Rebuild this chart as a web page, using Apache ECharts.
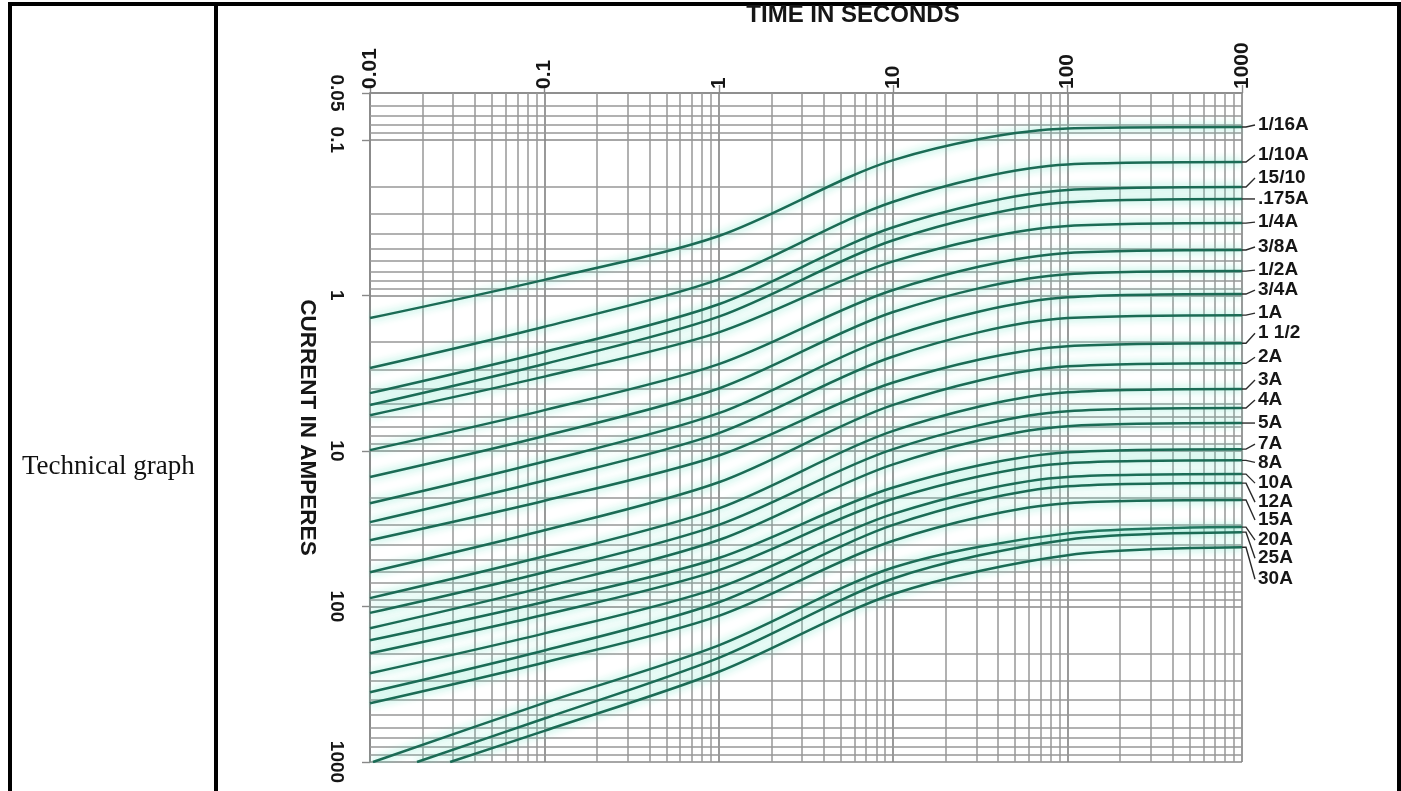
<!DOCTYPE html>
<html><head><meta charset="utf-8">
<script src="https://cdn.jsdelivr.net/npm/echarts@6/dist/echarts.min.js"></script>
<style>html,body{margin:0;padding:0;background:#fff;overflow:hidden}#c{width:1401px;height:791px}</style>
</head><body><div id="c"></div>
<script>
// ---- data (time in s, current in A) ----
const curveNames = ['1/16A','1/10A','15/100A','.175A','1/4A','3/8A','1/2A','3/4A','1A','1 1/2A','2A','3A','4A','5A','7A','8A','10A','12A','15A','20A','25A','30A'];
const c_1_16  = [[0.01,1.40],[0.1,0.795],[1,0.415],[10,0.135],[100,0.0845],[1000,0.0827]];
const c_1_10  = [[0.01,2.93],[0.1,1.59],[1,0.79],[10,0.250],[100,0.144],[1000,0.139]];
const c_15_100= [[0.01,4.25],[0.1,2.31],[1,1.14],[10,0.365],[100,0.210],[1000,0.201]];
const c_175   = [[0.01,5.07],[0.1,2.76],[1,1.37],[10,0.442],[100,0.252],[1000,0.240]];
const c_1_4   = [[0.01,5.89],[0.1,3.33],[1,1.73],[10,0.605],[100,0.358],[1000,0.343]];
const c_3_8   = [[0.01,9.88],[0.1,5.47],[1,2.77],[10,0.924],[100,0.534],[1000,0.511]];
const c_1_2   = [[0.01,14.7],[0.1,8.01],[1,3.97],[10,1.28],[100,0.731],[1000,0.698]];
const c_3_4   = [[0.01,21.7],[0.1,11.7],[1,5.72],[10,1.82],[100,1.03],[1000,0.981]];
const c_1     = [[0.01,28.7],[0.1,15.5],[1,7.68],[10,2.47],[100,1.40],[1000,1.34]];
const c_1_5   = [[0.01,37.5],[0.1,20.9],[1,10.7],[10,3.63],[100,2.12],[1000,2.03]];
const c_2     = [[0.01,60.2],[0.1,32.4],[1,15.9],[10,5.06],[100,2.86],[1000,2.73]];
const c_3     = [[0.01,88.4],[0.1,47.6],[1,23.4],[10,7.43],[100,4.20],[1000,4.00]];
const c_4     = [[0.01,110],[0.1,60.2],[1,29.9],[10,9.74],[100,5.55],[1000,5.30]];
const c_5     = [[0.01,138],[0.1,75.1],[1,37.4],[10,12.2],[100,6.93],[1000,6.62]];
const c_7     = [[0.01,165],[0.1,93.5],[1,48.8],[10,17.2],[100,10.2],[1000,9.74]];
const c_8     = [[0.01,200],[0.1,113],[1,58.4],[10,20.3],[100,12.0],[1000,11.5]];
const c_10    = [[0.01,269],[0.1,149],[1,75.6],[10,25.4],[100,14.7],[1000,14.1]];
const c_12    = [[0.01,356],[0.1,192],[1,94.0],[10,29.9],[100,16.9],[1000,16.1]];
const c_15    = [[0.01,419],[0.1,229],[1,115],[10,37.8],[100,21.7],[1000,20.7]];
const c_20    = [[0.0104,1000],[0.1,417],[1,178],[10,56.2],[100,33.9],[1000,30.9]];
const c_25    = [[0.0186,1000],[0.1,525],[1,214],[10,66.1],[100,37.2],[1000,33.3]];
const c_30    = [[0.0288,1000],[0.1,631],[1,263],[10,83.2],[100,46.8],[1000,41.6]];
const curves = [c_1_16,c_1_10,c_15_100,c_175,c_1_4,c_3_8,c_1_2,c_3_4,c_1,c_1_5,c_2,c_3,c_4,c_5,c_7,c_8,c_10,c_12,c_15,c_20,c_25,c_30];
// minor grid values
const minorTimes = [0.02,0.03,0.04,0.05,0.06,0.07,0.08,0.09,0.2,0.3,0.4,0.5,0.6,0.7,0.8,0.9,2,3,4,5,6,7,8,9,20,30,40,50,60,70,80,90,200,300,400,500,600,700,800,900];
const minorCurrents = [0.06,0.07,0.08,0.09,0.2,0.3,0.4,0.5,0.6,0.7,0.8,0.9,2,3,4,5,6,7,8,9,20,30,40,50,60,70,80,90,200,300,400,500,600,700,800,900];

// ---- styles ----
const labelDy = [-2,-7,-9,0,-1,-3,-1,-4,-2,-10,-6,-9,-8,0,-5,2,9,19,20,13,26,32];
const labelWidth = [60,60,52,60,60,60,60,60,60,55,60,60,60,60,60,60,60,60,60,60,60,60];
const GRID = {left:370, top:93, right:159, bottom:29};
const FONT = 'Liberation Sans, Arial, sans-serif';
const lineCol = '#1b6b55';
const fmt = v => String(Number(Number(v).toPrecision(6)));

const chart = echarts.init(document.getElementById('c'), null, {renderer:'canvas'});
const series = curves.map((d,i)=>({
  type:'line', name:curveNames[i], data:d, smooth:0.3, showSymbol:false, symbol:'none', silent:true, z:10,
  lineStyle:{color:lineCol, width:2.5, shadowColor:'rgba(95,226,192,0.95)', shadowBlur:9},
  endLabel:{show:true, formatter:curveNames[i], distance:16, offset:[0,labelDy[i]], color:'#161616',
    fontFamily:FONT, fontWeight:'bold', fontSize:19, width:labelWidth[i], overflow:'truncate', ellipsis:''}
}));
series.push({type:'line', data:[], silent:true, z:5,
  markLine:{silent:true, symbol:['none','none'], animation:false, label:{show:false},
    lineStyle:{color:'#979797', width:1.5, type:'solid'},
    data:[...minorTimes.map(v=>({xAxis:v})), ...minorCurrents.map(v=>({yAxis:v}))]}});

const axisCommon = {
  axisLine:{show:true, lineStyle:{color:'#888', width:1.6}},
  axisTick:{show:true, length:8, lineStyle:{color:'#888', width:1.4}},
  splitLine:{show:true, lineStyle:{color:'#888', width:1.7}},
  minorTick:{show:false}, minorSplitLine:{show:false}
};
const option = {
  animation:false,
  backgroundColor:'#fff',
  grid:{...GRID, containLabel:false, outerBoundsMode:'none'},
  xAxis:{type:'log', logBase:10, min:0.01, max:1000, position:'top', ...axisCommon,
    name:'TIME IN SECONDS', nameLocation:'middle', nameGap:66,
    nameTextStyle:{fontFamily:FONT, fontWeight:'bold', fontSize:24, color:'#161616', padding:[0,0,0,94]},
    axisLabel:{rotate:-90, margin:4, formatter:fmt, fontFamily:FONT, fontWeight:'bold', fontSize:21, color:'#161616'}},
  yAxis:{type:'log', logBase:10, min:0.05, max:1000, inverse:true, ...axisCommon,
    name:'CURRENT IN AMPERES', nameLocation:'middle', nameRotate:-90, nameGap:48,
    nameTextStyle:{fontFamily:FONT, fontWeight:'bold', fontSize:22.5, color:'#161616'},
    axisLabel:{rotate:-90, margin:24, formatter:fmt, fontFamily:FONT, fontWeight:'bold', fontSize:19, color:'#161616'}},
  graphic:[
    {type:'rect', id:'bTop', shape:{x:8,y:2,width:1393,height:4}, style:{fill:'#000'}, silent:true},
    {type:'rect', id:'bLeft', shape:{x:8,y:2,width:4,height:789}, style:{fill:'#000'}, silent:true},
    {type:'rect', id:'bMid', shape:{x:214,y:2,width:4,height:789}, style:{fill:'#000'}, silent:true},
    {type:'rect', id:'bRight', shape:{x:1397,y:2,width:4,height:789}, style:{fill:'#000'}, silent:true},
    {type:'text', id:'cellText', x:22, y:467, style:{text:'Technical graph', fontFamily:'Liberation Serif, serif', fontSize:27, fill:'#111', textVerticalAlign:'middle'}, silent:true}
  ],
  series
};
chart.setOption(option);
// leader lines from curve ends to the end labels
const leaders = curves.map((d,i)=>{
  const p = chart.convertToPixel({gridIndex:0}, d[d.length-1]);
  return {type:'polyline', id:'ld'+i, silent:true, z:20,
    shape:{points:[[p[0],p[1]],[p[0]+4,p[1]],[p[0]+13,p[1]+labelDy[i]]]},
    style:{stroke:'#2a2a2a', lineWidth:1.4, fill:null}};
});
chart.setOption({graphic:leaders});
</script></body></html>
